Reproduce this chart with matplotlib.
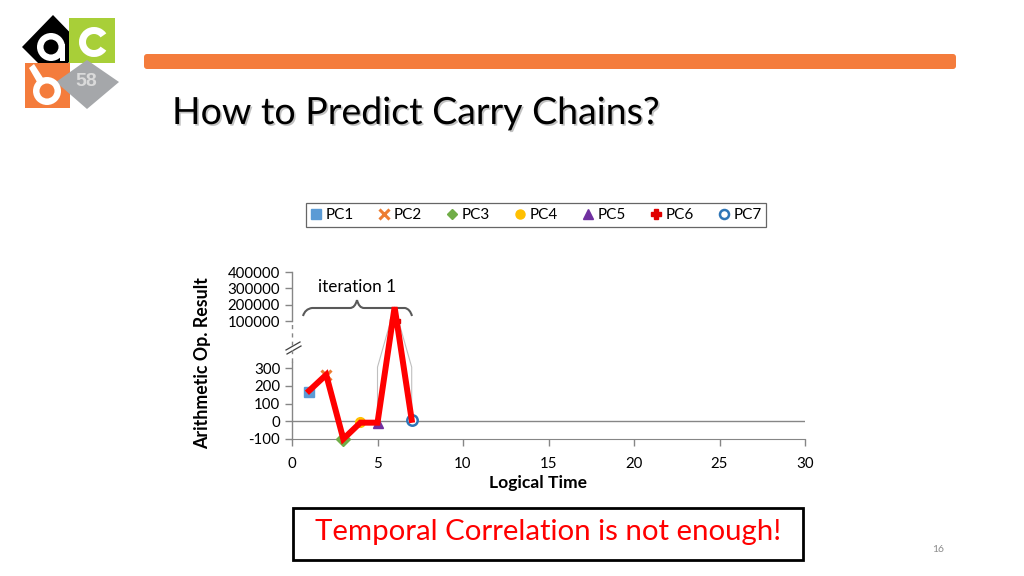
import numpy as np
import matplotlib

matplotlib.use("Agg")
import matplotlib.pyplot as plt
from matplotlib.lines import Line2D
from matplotlib.patches import Circle, FancyBboxPatch, PathPatch, Polygon, Rectangle, Wedge
from matplotlib.path import Path
import matplotlib.patheffects as pe

plt.rcParams["font.family"] = ["Lato", "DejaVu Sans"]

# data
series = ["PC1", "PC2", "PC3", "PC4", "PC5", "PC6", "PC7"]
pc_time = [1, 2, 3, 4, 5, 6, 7]
pc_value = [165, 262, -100, -5, -10, 100000, 8]
red_time = [1, 2, 3, 4, 5, 6, 7]
red_value = [172, 262, -100, -8, -8, 185000, 8]
grey_time = [5, 5, 6, 7, 7]
grey_value = [-8, 305, 185000, 305, 8]
xticks = [0, 5, 10, 15, 20, 25, 30]
yticks = [-100, 0, 100, 200, 300, 100000, 200000, 300000, 400000]

markers = ["s", "x", "D", "o", "^", "P", "o"]
colors = ["#5B9BD5", "#ED7D31", "#70AD47", "#FFC000", "#7030A0", "#E00000", "#2E75B6"]

# broken y axis: piecewise linear scale (lower band -100..350, upper band 1e5..4e5)
yp = [-1e4, -100, 350, 100000, 400000, 4e6]
tp = [-1770.0, -17.7, 62.0, 100.0, 149.0, 737.0]


def fwd(y):
    return np.interp(y, yp, tp)


def inv(t):
    return np.interp(t, tp, yp)


fig = plt.figure(figsize=(10.24, 5.76), dpi=100)

# background layer in pixel coordinates
bg = fig.add_axes([0, 0, 1, 1], zorder=0)
bg.set_xlim(0, 1024)
bg.set_ylim(576, 0)
bg.axis("off")

# orange header bar
bg.add_patch(FancyBboxPatch((144, 54), 812, 15, boxstyle="round,pad=0,rounding_size=3",
                            fc="#F47C3C", ec="none"))

# logo
bg.add_patch(Polygon([(22, 47), (53, 15), (84, 47), (53, 78)], closed=True, fc="black", ec="none"))
bg.add_patch(Rectangle((69, 18), 46, 45, fc="#A8CF38", ec="none"))
bg.add_patch(Rectangle((25, 63), 45, 45, fc="#F47C3C", ec="none"))
bg.add_patch(Polygon([(56, 82), (87, 60), (119, 82), (87, 109)], closed=True, fc="#A5A7AA", ec="none"))
bg.add_patch(Circle((51, 47), 14, fc="white", ec="none"))
bg.add_patch(Circle((51, 47), 7.5, fc="black", ec="none"))
bg.add_patch(Rectangle((59.5, 44), 5.5, 17, fc="white", ec="none"))
bg.add_patch(Wedge((94, 42), 15, 35, 325, width=7, fc="white", ec="none"))
bg.add_patch(Circle((47, 91), 14, fc="white", ec="none"))
bg.add_patch(Circle((47, 91), 7.5, fc="#F47C3C", ec="none"))
bg.add_patch(Polygon([(29, 68), (34, 64), (43, 78), (37, 82)], closed=True, fc="white", ec="none"))
bg.text(86, 82, "58", ha="center", va="center", fontsize=14, fontweight="bold", color="#DADADA",
        family=["Liberation Sans", "DejaVu Sans"])

# title
bg.text(172, 113, "How to Predict Carry Chains?", ha="left", va="center", fontsize=27, color="black",
        path_effects=[pe.SimplePatchShadow(offset=(1.2, -1.2), shadow_rgbFace="#9A9A9A", alpha=0.6),
                      pe.Normal()])

# bottom message box
bg.add_patch(Rectangle((293, 508), 510, 52, fc="white", ec="black", lw=2))
bg.text(548, 532, "Temporal Correlation is not enough!", ha="center", va="center", fontsize=21.2,
        color="#FF0000")
bg.text(938, 549, "16", ha="center", va="center", fontsize=7.5, color="#8C8C8C")

# brace + label
brace = Path([(303, 316), (305, 309), (312, 308), (312, 308),
              (350, 308), (355, 308), (357, 300), (357, 300),
              (359, 308), (364, 308), (364, 308),
              (405, 308), (410, 309), (412, 316)],
             [Path.MOVETO, Path.CURVE3, Path.CURVE3, Path.LINETO,
              Path.LINETO, Path.CURVE3, Path.CURVE3, Path.MOVETO,
              Path.CURVE3, Path.CURVE3, Path.LINETO,
              Path.LINETO, Path.CURVE3, Path.CURVE3])
bg.add_patch(PathPatch(brace, fc="none", ec="#595959", lw=1.5, zorder=5))
bg.text(357, 287, "iteration 1", ha="center", va="center", fontsize=12.3, color="black")

# axis break marks
bg.plot([286, 300], [350, 342], color="#404040", lw=0.9)
bg.plot([287, 301], [354, 346], color="#404040", lw=0.9)

# chart
ax = fig.add_axes([292 / 1024, 137 / 576, 513 / 1024, 167 / 576], zorder=2)
ax.patch.set_alpha(0)
ax.set_yscale("function", functions=(fwd, inv))
ax.set_xlim(0, 30)
ax.set_ylim(-100, 400000)
ax.set_xticks(xticks)
ax.set_yticks(yticks)
ax.set_yticklabels([str(v) for v in yticks])
ax.minorticks_off()
for s in ["top", "right", "left"]:
    ax.spines[s].set_visible(False)
ax.spines["bottom"].set_color("#868686")
ax.tick_params(axis="both", colors="#868686", labelcolor="black", labelsize=10.8, length=5, width=1)
ax.tick_params(axis="x", pad=8)
ax.axhline(0, color="#868686", lw=1, zorder=1)

# left spine: solid in both bands, dashed across the break
ax.plot([0, 0], [-100, 335], color="#868686", lw=1, clip_on=False)
ax.plot([0, 0], [100000, 400000], color="#868686", lw=1, clip_on=False)
ax.plot([0, 0], [335, 100000], color="#868686", lw=1, ls=(0, (3, 3)), clip_on=False)

ax.plot(grey_time, grey_value, color="#BFBFBF", lw=0.8, zorder=2)
for i, name in enumerate(series):
    if name == "PC7":
        ax.plot(pc_time[i], pc_value[i], marker="o", ms=7.5, mfc="white", mec=colors[i], mew=1.8,
                ls="none", clip_on=False, zorder=3)
    elif name == "PC2":
        ax.plot(pc_time[i], pc_value[i], marker="x", ms=7, mec=colors[i], mew=2.2, ls="none",
                clip_on=False, zorder=3)
    else:
        ax.plot(pc_time[i], pc_value[i], marker=markers[i], ms=7, mfc=colors[i], mec=colors[i],
                ls="none", clip_on=False, zorder=3)
ax.plot(red_time, red_value, color="#FF0000", lw=4.3, solid_joinstyle="miter", clip_on=False, zorder=4)

fig.text(203 / 1024, 1 - 363 / 576, "Arithmetic Op. Result", rotation=90, ha="center", va="center",
         fontsize=12.8, fontweight="bold")
fig.text(538 / 1024, 1 - 483 / 576, "Logical Time", ha="center", va="center", fontsize=12.6,
         fontweight="bold")

# legend
handles = []
for i, name in enumerate(series):
    if name == "PC7":
        h = Line2D([], [], ls="none", marker="o", ms=6.5, mfc="white", mec=colors[i], mew=1.8)
    elif name == "PC2":
        h = Line2D([], [], ls="none", marker="x", ms=6.5, mec=colors[i], mew=2.2)
    elif name == "PC3":
        h = Line2D([], [], ls="none", marker="D", ms=5, mfc=colors[i], mec=colors[i])
    else:
        h = Line2D([], [], ls="none", marker=markers[i], ms=6.5, mfc=colors[i], mec=colors[i])
    handles.append(h)
leg = fig.legend(handles, series, ncol=7, loc="center", bbox_to_anchor=(536 / 1024, 1 - 215 / 576),
                 fontsize=11, frameon=True, fancybox=False, edgecolor="#404040", handlelength=0.8,
                 handletextpad=0.2, columnspacing=1.6, borderpad=0.3, borderaxespad=0)
leg.get_frame().set_linewidth(0.9)

fig.savefig("out.png", dpi=100)
